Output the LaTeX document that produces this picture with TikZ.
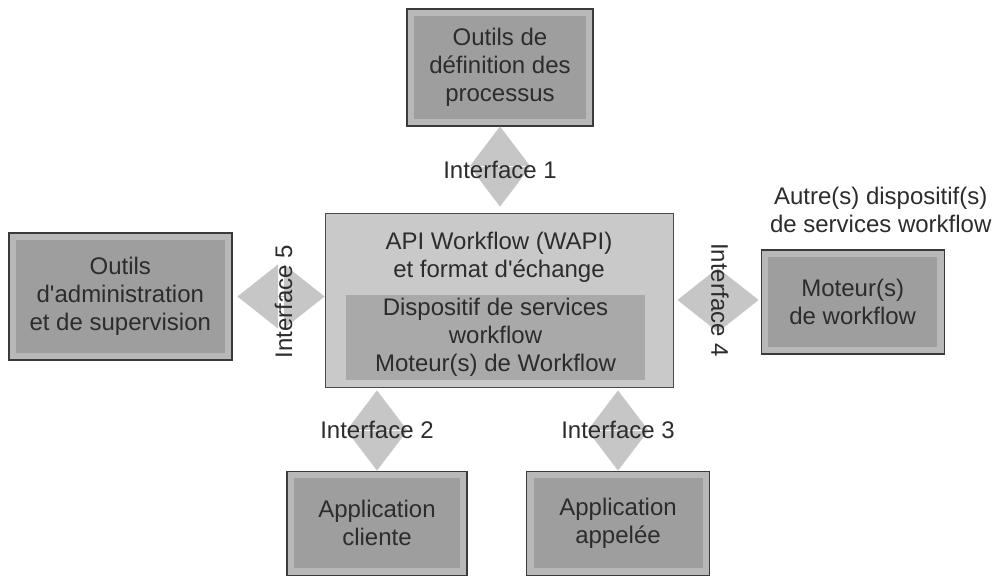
\documentclass[tikz,border=0pt]{standalone}
\usepackage{fontspec}
\setmainfont{Liberation Sans}
\usetikzlibrary{positioning, arrows.meta}

\definecolor{boxedge}{HTML}{3A3A3A}
\definecolor{boxrim}{HTML}{B8B8B8}
\definecolor{boxcore}{HTML}{9E9E9E}
\definecolor{apiedge}{HTML}{4A4A4A}
\definecolor{apifill}{HTML}{C9C9C9}
\definecolor{engfill}{HTML}{A9A9A9}
\definecolor{diafill}{HTML}{C6C6C6}
\definecolor{txt}{HTML}{2C2C2C}

\begin{document}
\begin{tikzpicture}[x=1pt, y=1pt,
    every node/.style={font=\fontsize{24}{28}\selectfont, text=txt, align=center},
    tool/.style={draw=boxedge, line width=1.4pt, fill=boxrim, inner sep=0pt,
      path picture={\fill[boxcore] ([shift={(7pt,-7pt)}]path picture bounding
        box.north west) rectangle ([shift={(-7pt,7pt)}]path picture bounding
        box.south east);}},
    ivert/.style={color=diafill, line width=0.2pt,
      arrows={Triangle[width=60pt,length=39.5pt]-Triangle[width=60pt,length=39.5pt]}},
    ihorz/.style={color=diafill, line width=0.2pt,
      arrows={Triangle[width=64pt,length=40.5pt]-Triangle[width=64pt,length=40.5pt]}}]
    \useasboundingbox (0,0) rectangle (995,-576);%

    % API Workflow
    \node [draw=apiedge, line width=1pt, fill=apifill, minimum width=348pt,
    minimum height=174pt] (api) at (499,-300) {};%
    \node [below=19pt of api.north, inner sep=0pt] (wapi) {API Workflow
      (WAPI)\\et format d\textquotesingle échange};%
    \node [fill=engfill, minimum width=299pt, minimum height=85pt, inner
    sep=0pt, below=82pt of api.north, xshift=-3.5pt] (eng) {Dispositif de
      services\\workflow\\Moteur(s) de Workflow};%

    % Outils de definition
    \node [tool, minimum width=186pt, minimum height=117pt, above=86pt of api,
    xshift=1pt] (def) {Outils de\\définition des\\processus};%

    % Outils d'administration
    \node [tool, minimum width=223pt, minimum height=127pt, left=92pt of api,
    yshift=3.5pt] (admin) {Outils\\d\textquotesingle administration\\et de
      supervision};%

    % Moteur(s) externes
    \node [tool, minimum width=183pt, minimum height=104pt, right=87pt of api,
    yshift=-2pt] (moteur) {Moteur(s)\\de workflow};%
    \node [above=16pt of moteur, xshift=28pt, inner sep=0pt] (other)
    {Autre(s) dispositif(s)\\de services workflow};%

    % Applications
    \node [tool, minimum width=180pt, minimum height=104pt, below=83pt of api,
    xshift=-122pt] (cliente) {Application\\cliente};%
    \node [tool, minimum width=183pt, minimum height=104pt, below=83pt of api,
    xshift=119pt] (appelee) {Application\\appelée};%

    % interfaces
    \draw [ivert, shorten >=6pt] (def.south) -- (def.south |- api.north)
    node [midway] (if1) {Interface 1};%
    \draw [ivert, shorten <=3pt] (api.south -| cliente.north) -- (cliente.north)
    node [midway, yshift=-1pt] (if2) {Interface 2};%
    \draw [ivert, shorten <=3pt] (api.south -| appelee.north) -- (appelee.north)
    node [midway, yshift=-1pt] (if3) {Interface 3};%
    \draw [ihorz, shorten <=5pt] (admin.east) -- (admin.east -| api.west)
    node [midway, xshift=5pt, yshift=-5pt, rotate=90] (if5) {Interface 5};%
    \draw [ihorz, shorten <=4pt, shorten >=2pt] (api.east) -- (api.east -|
    moteur.west) node [midway, xshift=3pt, rotate=-90] (if4) {Interface 4};
  \end{tikzpicture}
\end{document}
